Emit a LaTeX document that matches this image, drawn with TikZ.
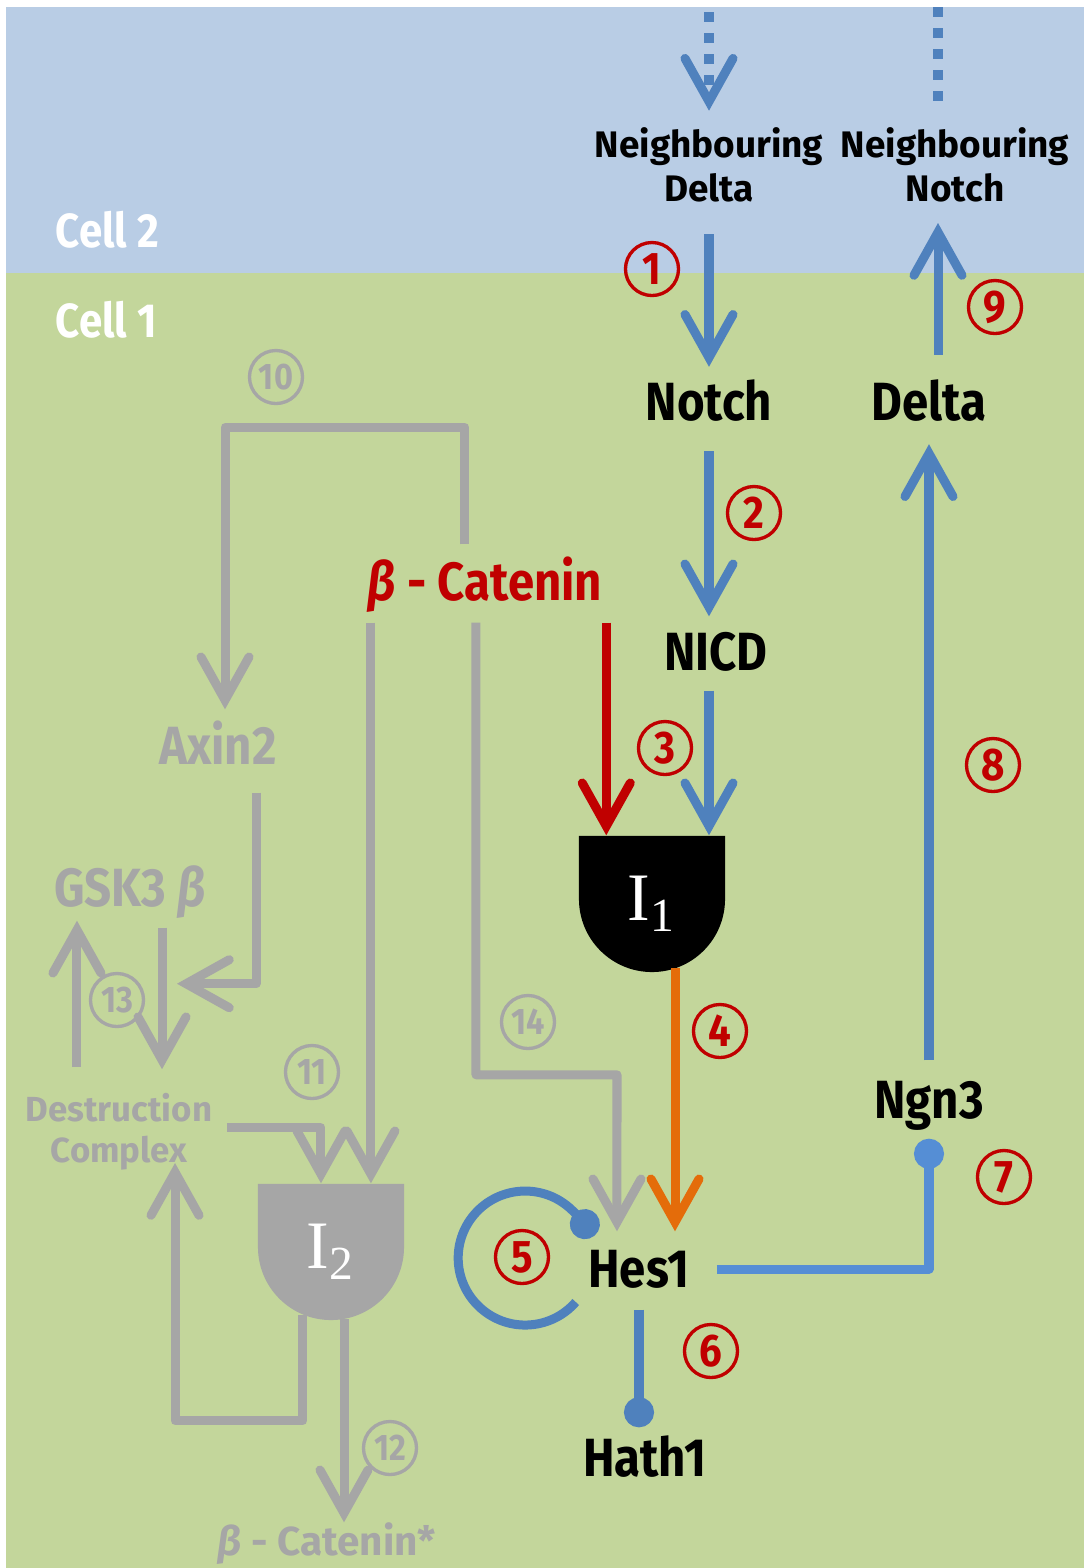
\documentclass[tikz,border=0pt]{standalone}
\usepackage{fontspec}
\newfontfamily\labelfont[FakeStretch=0.88]{Fira Sans}
\newfontfamily\plainfont{Fira Sans}
\newfontfamily\gatefont{Liberation Serif}
\usetikzlibrary{arrows.meta, calc}
\definecolor{cellblue}{HTML}{B9CDE5}
\definecolor{cellgreen}{HTML}{C3D69B}
\definecolor{notchblue}{HTML}{4F81BD}
\definecolor{hesblue}{HTML}{558ED5}
\definecolor{wntgray}{HTML}{A6A6A6}
\definecolor{catred}{HTML}{C00000}
\definecolor{hesorange}{HTML}{E46C0A}
\tikzset{
  gene/.style={inner sep=0pt, text height=0.37cm, text depth=0pt, font=\labelfont\bfseries\fontsize{15.3}{16}\selectfont},
  smallgene/.style={inner sep=0pt, text height=0.25cm, text depth=0pt, text=wntgray, font=\plainfont\bfseries\fontsize{11.5}{12}\selectfont},
  neigh/.style={inner sep=0pt, align=center, text depth=0pt, font=\plainfont\bfseries\fontsize{10.5}{12.5}\selectfont},
  complexlabel/.style={inner sep=0pt, align=center, text depth=0pt, text=wntgray, font=\plainfont\bfseries\fontsize{9.9}{11.7}\selectfont},
  celltag/.style={inner sep=0pt, anchor=base west, text=white, font=\labelfont\bfseries\fontsize{13.6}{14}\selectfont},
  numtag/.style={circle, draw=#1, text=#1, line width=0.95pt, minimum size=0.53cm, inner sep=0pt, font=\labelfont\bfseries\fontsize{13}{13}\selectfont},
  wnttag/.style={numtag=wntgray, font=\labelfont\bfseries\fontsize{10.5}{11}\selectfont},
  gate/.style={minimum width=1.46cm, minimum height=1.36cm, inner sep=0pt, text=white, font=\gatefont\fontsize{19.3}{20}\selectfont,
    path picture={\fill[#1] (path picture bounding box.north west) -- (path picture bounding box.north east)
      -- ([yshift=0.73cm]path picture bounding box.south east) arc[start angle=0, end angle=-180, radius=0.73cm] -- cycle;}},
  link/.style={line width=0.09cm, line join=round, draw=#1},
  flow/.style={link=#1, -{Straight Barb[length=0.43cm, width=0.48cm, line cap=round, line join=miter]}},
  block/.style={link=#1, -{Circle[length=0.3cm]}},
  dashes/.style={dash pattern=on 0.1cm off 0.11cm}
}

\begin{document}
\begin{tikzpicture}[x=0.01cm, y=-0.01cm]

\useasboundingbox (0,0) rectangle (1084,1568);
\fill[white] (0,0) rectangle (1084,1568);
\fill[cellblue] (6,7) rectangle (1084,273);
\fill[cellgreen] (6,273) rectangle (1084,1568);

\node[celltag] (cell2) at (55,247) {Cell 2};
\node[celltag] (cell1) at (55,337) {Cell 1};

% Notch / Delta side
\node[neigh, anchor=south] (ndelta) at (709,202) {Neighbouring\\Delta};
\node[neigh, anchor=south] (nnotch) at (955,202) {Neighbouring\\Notch};
\node[gene] (notch) at (709,402) {Notch};
\node[gene] (delta) at (929,402) {Delta};
\node[gene] (nicd) at (716,652) {NICD};
\node[gene, text=catred] (bcat) at (485,582) {{\itshape β} - Catenin};
\node[gate=black] (gate1) at (652,904) {I\textsubscript{1}};
\node[gene] (hes1) at (639,1269) {Hes1};
\node[gene] (ngn3) at (929,1100) {Ngn3};
\node[gene] (hath1) at (645,1458) {Hath1};
\coordinate (topd) at (709,12);
\coordinate (topn) at (938,7);

% Wnt side
\node[gene, text=wntgray] (axin) at (218,746) {Axin2};
\node[gene, text=wntgray] (gsk) at (130,888) {GSK3 {\itshape β}};
\node[complexlabel, anchor=south] (dc) at (119,1163) {Destruction\\Complex};
\node[gate=wntgray] (gate2) at (331,1252) {I\textsubscript{2}};
\node[smallgene] (bcatstar) at (327,1543) {{\itshape β} - Catenin*};

% step numbers
\node[numtag=catred] (c1) at (652,269) {1};
\node[numtag=catred] (c2) at (754,513) {2};
\node[numtag=catred] (c3) at (665,748) {3};
\node[numtag=catred] (c4) at (720,1031) {4};
\node[numtag=catred] (c5) at (522,1257) {5};
\node[numtag=catred] (c6) at (711,1351) {6};
\node[numtag=catred] (c7) at (1004,1177) {7};
\node[numtag=catred] (c8) at (993,765) {8};
\node[numtag=catred] (c9) at (995,307) {9};
\node[wnttag] (c10) at (276,377) {10};
\node[wnttag] (c11) at (312,1072) {11};
\node[wnttag] (c12) at (390,1448) {12};
\node[wnttag] (c13) at (117,1000) {13};
\node[wnttag] (c14) at (528,1022) {14};

% Notch signalling
\draw[flow=notchblue, dashes, shorten >=0.16cm] (topd) -- (ndelta.north);
\draw[link=notchblue, dashes, shorten >=0.16cm] (topn) -- (topn |- nnotch.north);
\draw[flow=notchblue, shorten <=0.32cm, shorten >=0.16cm] (ndelta.south) -- (notch.north);
\draw[flow=notchblue, shorten <=0.3cm, shorten >=0.165cm] (notch.south) -- (notch.south |- nicd.north);
\draw[flow=notchblue, shorten <=0.195cm] (notch.south |- nicd.south) -- (notch.south |- gate1.north);
\draw[flow=catred, shorten <=0.215cm] ([xshift=0.28cm]gate1.north west |- bcat.south) -- ([xshift=0.28cm]gate1.north west);
\draw[flow=hesorange, shorten >=0.185cm] ([xshift=0.23cm, yshift=0.05cm]gate1.south) -- ([xshift=0.23cm]gate1.south |- hes1.north);
\draw[flow=wntgray, shorten <=0.215cm, shorten >=0.185cm] ([xshift=-0.09cm]bcat.south) |- ($(hes1.north)+(-22,-175)$) -- ([xshift=-0.22cm]hes1.north);

% Hes1 targets and Delta output
\draw[block=notchblue] ($(hes1.west)+(-12,33)$) arc[start angle=41, end angle=343, radius=67];
\draw[block=notchblue, shorten <=0.215cm, shorten >=0.115cm] (hes1.south) -- (hes1.south |- hath1.north);
\draw[block=hesblue, shorten <=0.265cm, shorten >=0.195cm] (hes1.east) -| (ngn3.south);
\draw[flow=notchblue, shorten <=0.205cm, shorten >=0.23cm] (ngn3.north) -- (delta.south);
\draw[flow=notchblue, shorten <=0.28cm, shorten >=0.21cm] ([xshift=0.09cm]delta.north) -- ([xshift=0.09cm]delta.north |- nnotch.south);

% Wnt signalling
\draw[flow=wntgray, shorten <=0.185cm, shorten >=0.175cm] ([xshift=-0.2cm]bcat.north) -- ++(0,-135.5) -| ([xshift=0.07cm]axin.north);
\draw[flow=wntgray, shorten <=0.275cm] ([xshift=0.38cm]axin.south) |- ($(gsk.south)+(47,76.5)$);
\draw[flow=wntgray, shorten <=0.205cm, shorten >=0.23cm] ([xshift=0.32cm]gsk.south) -- ([xshift=0.32cm]gsk.south |- dc.north);
\draw[flow=wntgray, shorten <=0.25cm, shorten >=0.135cm] ([xshift=-0.53cm]gsk.south |- dc.north) -- ([xshift=-0.53cm]gsk.south);
\draw[flow=wntgray, shorten <=0.14cm] (dc.east) -| ([xshift=-0.1cm]gate2.north);
\draw[flow=wntgray, shorten <=0.215cm] ([xshift=-1.14cm]bcat.south) -- ([xshift=-1.14cm]bcat.south |- gate2.north);
\draw[flow=wntgray, shorten >=0.075cm] ([xshift=0.13cm, yshift=0.02cm]gate2.south) -- ([xshift=0.13cm]gate2.south |- bcatstar.north);
\draw[flow=wntgray] ([xshift=-0.28cm, yshift=0.06cm]gate2.south) -- ++(0,106) -| ([xshift=0.56cm]dc.south);

\end{tikzpicture}
\end{document}
